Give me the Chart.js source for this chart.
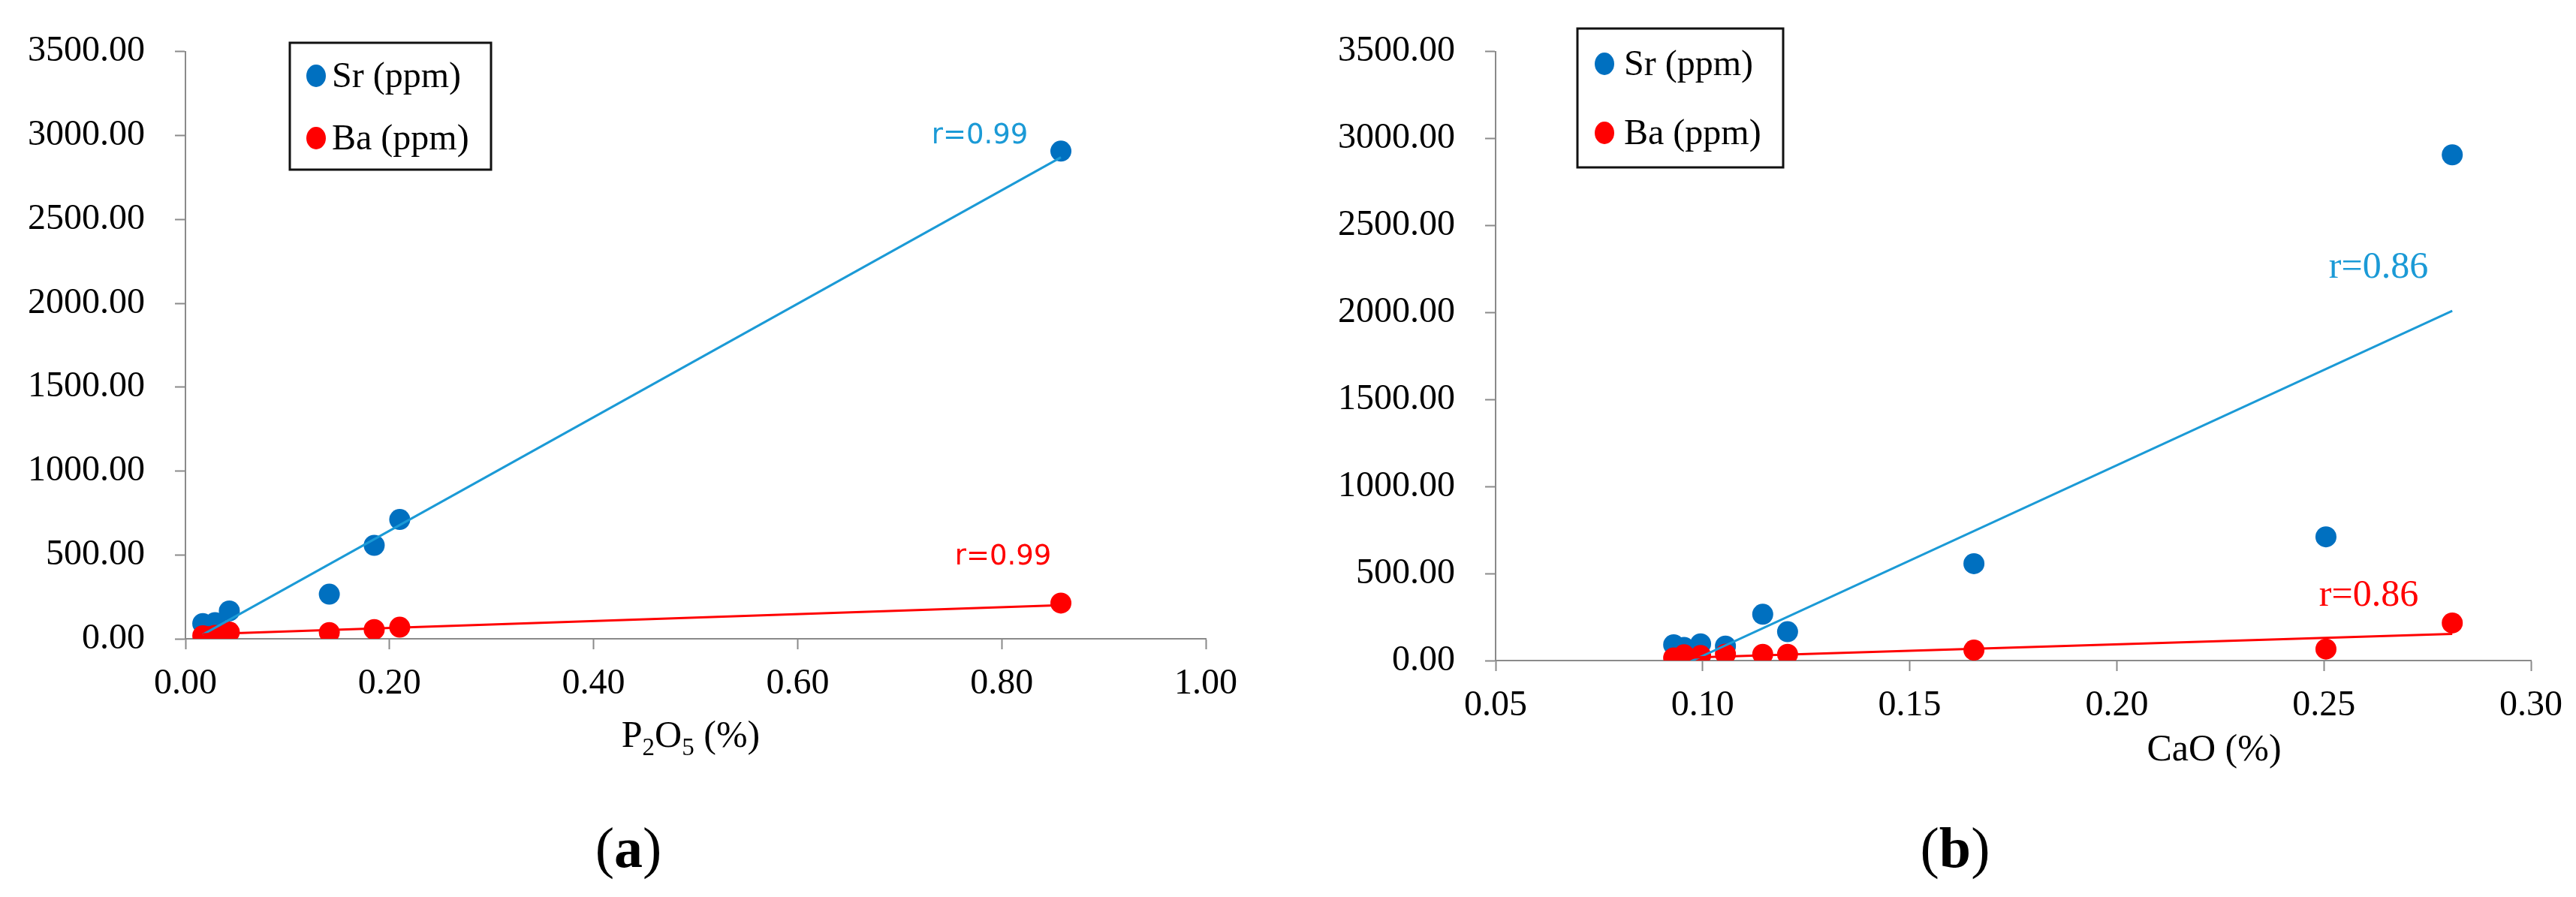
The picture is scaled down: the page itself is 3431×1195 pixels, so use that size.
<!DOCTYPE html>
<html>
<head>
<meta charset="utf-8">
<title>Sr and Ba vs P2O5 and CaO</title>
<script src="https://cdn.jsdelivr.net/npm/chart.js@4.4.0/dist/chart.umd.min.js"></script>
<style>
  html, body { margin: 0; padding: 0; background: #fff; }
  body { width: 3431px; height: 1195px; position: relative; overflow: hidden; }
  .panel { position: absolute; top: 0; height: 1195px; }
  #panelA { left: 0; width: 1715px; }
  #panelB { left: 1715px; width: 1716px; }
</style>
</head>
<body>
<div class="panel" id="panelA"><canvas id="chartA"></canvas></div>
<div class="panel" id="panelB"><canvas id="chartB"></canvas></div>
<script>
// series names
const seriesNames = ['Sr (ppm)', 'Ba (ppm)'];

// panel (a): P2O5 (%) against Sr and Ba
const p2o5 = [0.017, 0.019, 0.025, 0.029, 0.043, 0.141, 0.185, 0.210, 0.858];
const srA  = [91, 75, 83, 96, 166, 266, 557, 711, 2907];
const baA  = [18, 15, 13, 20, 40, 37, 55, 69, 213];
// trend lines (a), ends: [x, y]
const srTrendA = [[0.017, 25], [0.858, 2870]];
const baTrendA = [[0.017, 27], [0.858, 200]];

// panel (b): CaO (%) against Sr and Ba
const cao = [0.093, 0.0955, 0.0995, 0.1055, 0.1145, 0.1205, 0.1655, 0.2505, 0.281];
const srB = [91, 75, 96, 83, 266, 166, 557, 711, 2907];
const baB = [15, 33, 29, 37, 36, 36, 60, 66, 216];
const srTrendB = [[0.093, -50], [0.281, 2010]];
const baTrendB = [[0.093, 14], [0.281, 153]];

// correlation labels
const rA = ['r=0.99', 'r=0.99'];
const rB = ['r=0.86', 'r=0.86'];

const SR_COLOR = '#0070C0';
const BA_COLOR = '#FF0000';
const SR_LINE = '#1B9AD6';
const AXIS_GRAY = '#8a8a8a';
const SERIF = '"Liberation Serif", "Times New Roman", serif';

Chart.defaults.font.family = SERIF;
Chart.defaults.animation = false;

const toPoints = (xs, ys) => xs.map((x, i) => ({ x: x, y: ys[i] }));
const toLine = (pairs) => pairs.map(p => ({ x: p[0], y: p[1] }));

// draws a run of text pieces (subscript / bold) centred on cx
function drawRich(ctx, parts, cx, baseline, size) {
  const fontOf = p => (p.bold ? 'bold ' : '') + Math.round(p.sub ? size * 0.65 : size) + 'px ' + SERIF;
  let total = 0;
  parts.forEach(p => { ctx.font = fontOf(p); total += ctx.measureText(p.t).width; });
  let x = cx - total / 2;
  ctx.textAlign = 'left';
  ctx.textBaseline = 'alphabetic';
  parts.forEach(p => {
    ctx.font = fontOf(p);
    ctx.fillText(p.t, x, baseline + (p.sub ? size * 0.22 : 0));
    x += ctx.measureText(p.t).width;
  });
}

// legend box, r labels, axis title and panel letter
const extrasPlugin = {
  id: 'extras',
  afterDraw(chart, args, opts) {
    const ctx = chart.ctx;
    const ox = opts.offsetX;
    ctx.save();

    const lg = opts.legend;
    ctx.fillStyle = '#fff';
    ctx.fillRect(lg.x - ox, lg.y, lg.w, lg.h);
    ctx.lineWidth = 3;
    ctx.strokeStyle = '#111';
    ctx.strokeRect(lg.x - ox, lg.y, lg.w, lg.h);
    [SR_COLOR, BA_COLOR].forEach((c, i) => {
      const cy = lg.rows[i];
      ctx.fillStyle = c;
      ctx.beginPath();
      ctx.ellipse(lg.markerX - ox, cy, 13, 15, 0, 0, Math.PI * 2);
      ctx.fill();
      ctx.fillStyle = '#000';
      ctx.font = '48px ' + SERIF;
      ctx.textAlign = 'left';
      ctx.textBaseline = 'middle';
      ctx.fillText(seriesNames[i], lg.textX - ox, cy + 2);
    });

    opts.notes.forEach(n => {
      ctx.font = n.font;
      ctx.fillStyle = n.color;
      ctx.textAlign = 'center';
      ctx.textBaseline = 'middle';
      ctx.fillText(n.text, n.x - ox, n.y);
    });

    ctx.fillStyle = '#000';
    drawRich(ctx, opts.title.parts, opts.title.x - ox, opts.title.y, 50);
    drawRich(ctx, [{ t: '(' }, { t: opts.letter.t, bold: true }, { t: ')' }], opts.letter.x - ox, opts.letter.y, 76);
    ctx.restore();
  }
};

function axis(min, max, step, pad, fitFn) {
  return {
    type: 'linear',
    min: min,
    max: max,
    ticks: {
      stepSize: step,
      color: '#000',
      font: { family: SERIF, size: 48 },
      padding: pad,
      maxRotation: 0,
      autoSkip: false,
      callback: v => Number(v).toFixed(2)
    },
    grid: {
      display: true,
      drawOnChartArea: false,
      drawTicks: true,
      tickLength: 14,
      tickColor: AXIS_GRAY,
      tickWidth: 2
    },
    border: { display: true, color: AXIS_GRAY, width: 2 },
    afterFit: fitFn
  };
}

function makeChart(id, cfg) {
  return new Chart(document.getElementById(id), {
    type: 'scatter',
    data: {
      datasets: [
        { label: seriesNames[0], data: toPoints(cfg.xs, cfg.sr), backgroundColor: SR_COLOR, borderColor: SR_COLOR,
          pointRadius: 14, borderWidth: 0, order: 4 },
        { label: seriesNames[1], data: toPoints(cfg.xs, cfg.ba), backgroundColor: BA_COLOR, borderColor: BA_COLOR,
          pointRadius: 14, borderWidth: 0, order: 3 },
        { label: 'Sr trend', data: toLine(cfg.srTrend), showLine: true, pointRadius: 0,
          borderColor: SR_LINE, borderWidth: 3, order: 2 },
        { label: 'Ba trend', data: toLine(cfg.baTrend), showLine: true, pointRadius: 0,
          borderColor: BA_COLOR, borderWidth: 3, order: 1 }
      ]
    },
    options: {
      responsive: true,
      maintainAspectRatio: false,
      events: [],
      layout: { padding: cfg.padding },
      plugins: {
        legend: { display: false },
        tooltip: { enabled: false },
        extras: cfg.extras
      },
      scales: {
        x: axis(cfg.xMin, cfg.xMax, cfg.xStep, 18, s => { s.height = cfg.xAxisHeight; }),
        y: axis(0, 3500, 500, 40, s => { s.width = cfg.yAxisWidth; })
      }
    },
    plugins: [extrasPlugin]
  });
}

makeChart('chartA', {
  xs: p2o5, sr: srA, ba: baA, srTrend: srTrendA, baTrend: baTrendA,
  xMin: 0, xMax: 1, xStep: 0.2,
  padding: { top: 61, right: 109, left: 0, bottom: 0 },
  yAxisWidth: 247, xAxisHeight: 344,
  extras: {
    offsetX: 0,
    legend: { x: 386, y: 57, w: 268, h: 169, rows: [101, 184], markerX: 421, textX: 442 },
    notes: [
      { text: rA[0], color: SR_LINE, font: '37px "DejaVu Sans", Verdana, sans-serif', x: 1305, y: 181 },
      { text: rA[1], color: BA_COLOR, font: '37px "DejaVu Sans", Verdana, sans-serif', x: 1336, y: 742 }
    ],
    title: { parts: [{ t: 'P' }, { t: '2', sub: true }, { t: 'O' }, { t: '5', sub: true }, { t: ' (%)' }], x: 920, y: 995 },
    letter: { t: 'a', x: 837, y: 1155 }
  }
});

makeChart('chartB', {
  xs: cao, sr: srB, ba: baB, srTrend: srTrendB, baTrend: baTrendB,
  xMin: 0.05, xMax: 0.30, xStep: 0.05,
  padding: { top: 40, right: 54, left: 0, bottom: 0 },
  yAxisWidth: 277, xAxisHeight: 315,
  extras: {
    offsetX: 1715,
    legend: { x: 2101, y: 38, w: 274, h: 185, rows: [85, 177], markerX: 2137, textX: 2163 },
    notes: [
      { text: rB[0], color: SR_LINE, font: '50px ' + SERIF, x: 3168, y: 357 },
      { text: rB[1], color: BA_COLOR, font: '50px ' + SERIF, x: 3155, y: 794 }
    ],
    title: { parts: [{ t: 'CaO (%)' }], x: 2949, y: 1013 },
    letter: { t: 'b', x: 2604, y: 1155 }
  }
});
</script>
</body>
</html>
